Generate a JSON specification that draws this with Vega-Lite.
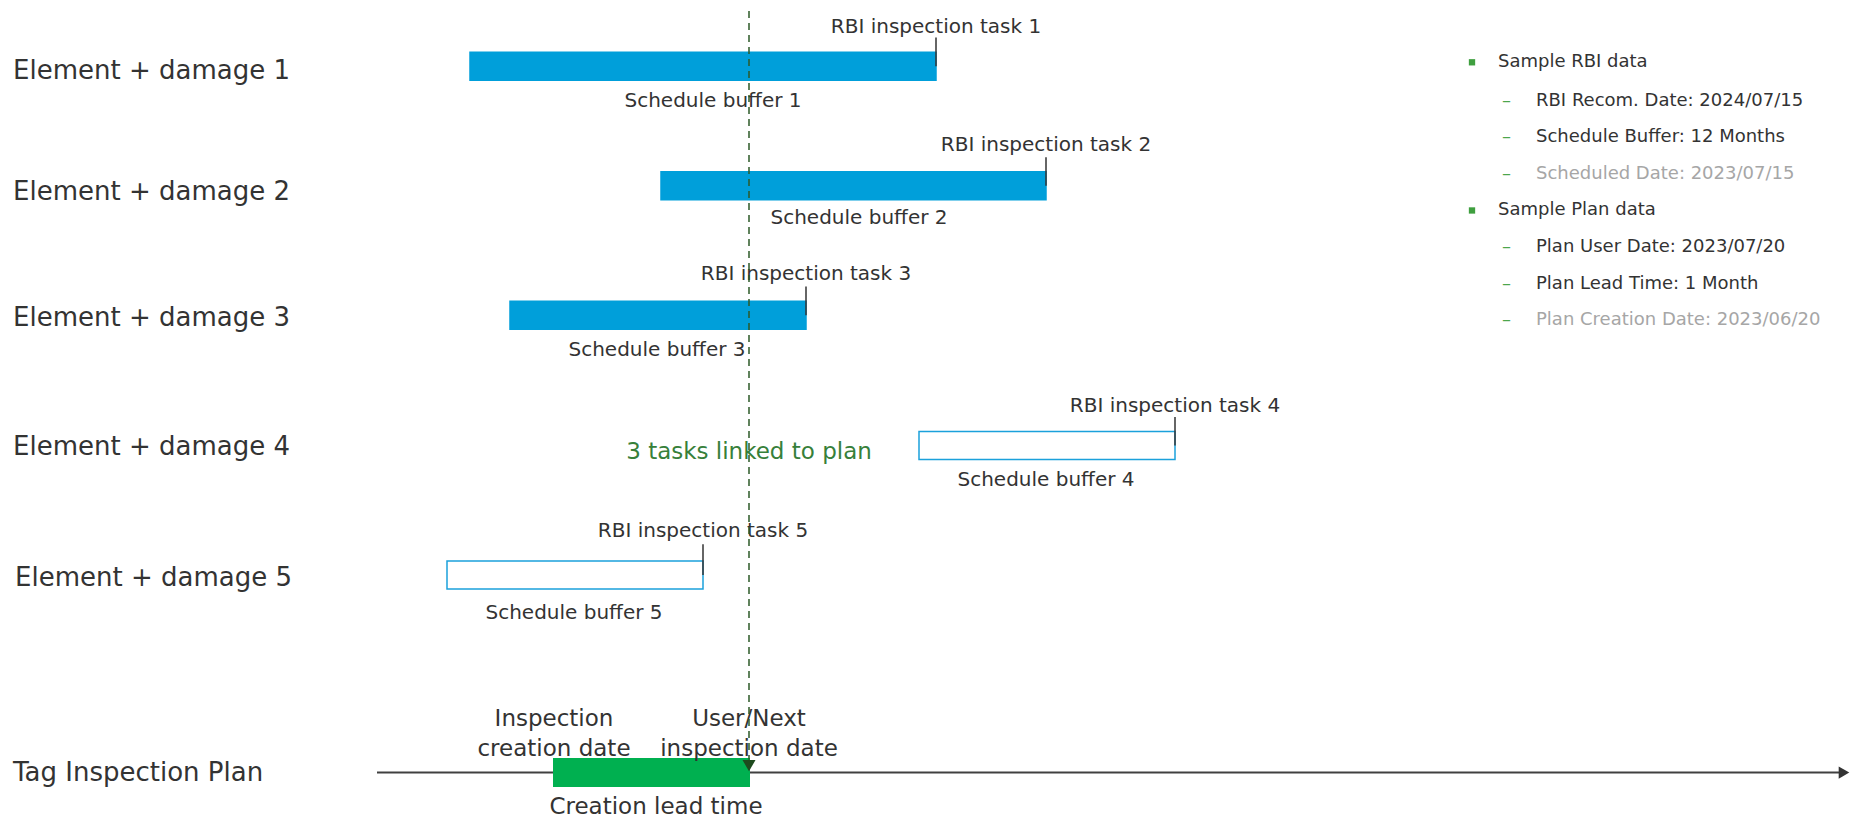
{
  "$schema": "https://vega.github.io/schema/vega-lite/v6.json",
  "width": 1855,
  "height": 824,
  "padding": 0,
  "autosize": {"type": "none"},
  "background": "#ffffff",
  "config": {"view": {"stroke": null}, "text": {"font": "DejaVu Sans"}},
  "datasets": {
    "tasks": [
      {"task": "RBI inspection task 1", "buffer": "Schedule buffer 1", "start": 470, "end": 936, "lane": 62, "tickTop": 33, "labelLane": 22, "bufferLane": 97, "bufferMid": 713, "linked": "yes"},
      {"task": "RBI inspection task 2", "buffer": "Schedule buffer 2", "start": 661, "end": 1046, "lane": 183, "tickTop": 154, "labelLane": 142, "bufferLane": 216, "bufferMid": 859, "linked": "yes"},
      {"task": "RBI inspection task 3", "buffer": "Schedule buffer 3", "start": 510, "end": 806, "lane": 314, "tickTop": 285, "labelLane": 272, "bufferLane": 349, "bufferMid": 657, "linked": "yes"},
      {"task": "RBI inspection task 4", "buffer": "Schedule buffer 4", "start": 919, "end": 1175, "lane": 446, "tickTop": 417, "labelLane": 406, "bufferLane": 481, "bufferMid": 1046, "linked": "no"},
      {"task": "RBI inspection task 5", "buffer": "Schedule buffer 5", "start": 447, "end": 703, "lane": 577, "tickTop": 546, "labelLane": 532, "bufferLane": 615, "bufferMid": 574, "linked": "no"}
    ],
    "rows": [
      {"label": "Element + damage 1", "t": 13, "lane": 67},
      {"label": "Element + damage 2", "t": 13, "lane": 189},
      {"label": "Element + damage 3", "t": 13, "lane": 317},
      {"label": "Element + damage 4", "t": 13, "lane": 447},
      {"label": "Element + damage 5", "t": 15, "lane": 580},
      {"label": "Tag Inspection Plan", "t": 13, "lane": 777}
    ],
    "timeline": [{"t": 377, "t2": 1840, "lane": 777, "arrowT": 1844}],
    "plan": [{"start": 553, "end": 750, "lane": 777, "userDate": 749, "dashTop": 6, "dashBottom": 764, "arrowLane": 770}],
    "planLabels": [
      {"text": "Inspection\ncreation date", "t": 554, "lane": 723},
      {"text": "User/Next\ninspection date", "t": 749, "lane": 723},
      {"text": "Creation lead time", "t": 656, "lane": 812}
    ],
    "note": [{"text": "3 tasks linked to plan", "t": 749, "lane": 452}],
    "legend": [
      {"text": "Sample RBI data", "level": 1, "muted": "no", "lane": 58},
      {"text": "RBI Recom. Date: 2024/07/15", "level": 2, "muted": "no", "lane": 97},
      {"text": "Schedule Buffer: 12 Months", "level": 2, "muted": "no", "lane": 134},
      {"text": "Scheduled Date: 2023/07/15", "level": 2, "muted": "yes", "lane": 171},
      {"text": "Sample Plan data", "level": 1, "muted": "no", "lane": 208},
      {"text": "Plan User Date: 2023/07/20", "level": 2, "muted": "no", "lane": 245},
      {"text": "Plan Lead Time: 1 Month", "level": 2, "muted": "no", "lane": 282},
      {"text": "Plan Creation Date: 2023/06/20", "level": 2, "muted": "yes", "lane": 319}
    ]
  },
  "layer": [
    {
      "data": {"name": "timeline"},
      "mark": {"type": "rule", "color": "#404040", "strokeWidth": 2},
      "encoding": {
        "x": {"field": "t", "type": "quantitative", "scale": {"domain": [0, 1855], "nice": false, "zero": false}, "axis": null},
        "x2": {"field": "t2"},
        "y": {"field": "lane", "type": "quantitative", "scale": {"domain": [0, 824], "reverse": true, "nice": false, "zero": false}, "axis": null}
      }
    },
    {
      "data": {"name": "timeline"},
      "mark": {"type": "point", "shape": "triangle-right", "filled": true, "color": "#333333", "size": 150, "opacity": 1},
      "encoding": {
        "x": {"field": "arrowT", "type": "quantitative"},
        "y": {"field": "lane", "type": "quantitative"}
      }
    },
    {
      "data": {"name": "tasks"},
      "mark": {"type": "bar", "orient": "horizontal", "height": 28, "strokeWidth": 1.5},
      "encoding": {
        "x": {"field": "start", "type": "quantitative"},
        "x2": {"field": "end"},
        "y": {"field": "lane", "type": "quantitative"},
        "fill": {"field": "linked", "type": "nominal", "scale": {"domain": ["yes", "no"], "range": ["#009FDA", "#FFFFFF"]}, "legend": null},
        "stroke": {"field": "linked", "type": "nominal", "scale": {"domain": ["yes", "no"], "range": ["#009FDA", "#1BA1DB"]}, "legend": null}
      }
    },
    {
      "data": {"name": "plan"},
      "mark": {"type": "bar", "orient": "horizontal", "height": 29, "color": "#00B050"},
      "encoding": {
        "x": {"field": "start", "type": "quantitative"},
        "x2": {"field": "end"},
        "y": {"field": "lane", "type": "quantitative"}
      }
    },
    {
      "data": {"name": "tasks"},
      "mark": {"type": "rule", "color": "#333333", "strokeWidth": 1.5},
      "encoding": {
        "x": {"field": "end", "type": "quantitative"},
        "y": {"field": "tickTop", "type": "quantitative"},
        "y2": {"field": "lane"}
      }
    },
    {
      "data": {"name": "tasks"},
      "mark": {"type": "text", "fontSize": 20, "align": "center", "baseline": "middle", "color": "#333333"},
      "encoding": {
        "x": {"field": "end", "type": "quantitative"},
        "y": {"field": "labelLane", "type": "quantitative"},
        "text": {"field": "task"}
      }
    },
    {
      "data": {"name": "tasks"},
      "mark": {"type": "text", "fontSize": 20, "align": "center", "baseline": "middle", "color": "#333333"},
      "encoding": {
        "x": {"field": "bufferMid", "type": "quantitative"},
        "y": {"field": "bufferLane", "type": "quantitative"},
        "text": {"field": "buffer"}
      }
    },
    {
      "data": {"name": "rows"},
      "mark": {"type": "text", "fontSize": 26, "align": "left", "baseline": "middle", "color": "#333333"},
      "encoding": {
        "x": {"field": "t", "type": "quantitative"},
        "y": {"field": "lane", "type": "quantitative"},
        "text": {"field": "label"}
      }
    },
    {
      "data": {"name": "planLabels"},
      "mark": {"type": "text", "fontSize": 23, "align": "center", "baseline": "middle", "color": "#333333", "lineBreak": "\n", "lineHeight": 30},
      "encoding": {
        "x": {"field": "t", "type": "quantitative"},
        "y": {"field": "lane", "type": "quantitative"},
        "text": {"field": "text"}
      }
    },
    {
      "data": {"name": "note"},
      "mark": {"type": "text", "fontSize": 23, "align": "center", "baseline": "middle", "color": "#37803A"},
      "encoding": {
        "x": {"field": "t", "type": "quantitative"},
        "y": {"field": "lane", "type": "quantitative"},
        "text": {"field": "text"}
      }
    },
    {
      "data": {"name": "plan"},
      "mark": {"type": "rule", "color": "#2D5A27", "strokeWidth": 1.5, "strokeDash": [7, 5]},
      "encoding": {
        "x": {"field": "userDate", "type": "quantitative"},
        "y": {"field": "dashTop", "type": "quantitative"},
        "y2": {"field": "dashBottom"}
      }
    },
    {
      "data": {"name": "plan"},
      "mark": {"type": "point", "shape": "triangle-down", "filled": true, "color": "#1E4A1E", "size": 170, "opacity": 1},
      "encoding": {
        "x": {"field": "userDate", "type": "quantitative"},
        "y": {"field": "arrowLane", "type": "quantitative"}
      }
    },
    {
      "data": {"name": "legend"},
      "transform": [{"filter": "datum.level == 1"}],
      "mark": {"type": "point", "shape": "square", "filled": true, "color": "#3F9F3F", "size": 40, "opacity": 1},
      "encoding": {
        "x": {"datum": 1472, "type": "quantitative"},
        "y": {"field": "lane", "type": "quantitative"}
      }
    },
    {
      "data": {"name": "legend"},
      "transform": [{"filter": "datum.level == 2"}],
      "mark": {"type": "text", "fontSize": 18, "align": "left", "baseline": "middle", "color": "#4CA64C", "text": "–"},
      "encoding": {
        "x": {"datum": 1502, "type": "quantitative"},
        "y": {"field": "lane", "type": "quantitative"}
      }
    },
    {
      "data": {"name": "legend"},
      "transform": [{"filter": "datum.level == 1"}],
      "mark": {"type": "text", "fontSize": 18, "align": "left", "baseline": "middle", "color": "#333333"},
      "encoding": {
        "x": {"datum": 1498, "type": "quantitative"},
        "y": {"field": "lane", "type": "quantitative"},
        "text": {"field": "text"}
      }
    },
    {
      "data": {"name": "legend"},
      "transform": [{"filter": "datum.level == 2 && datum.muted == 'no'"}],
      "mark": {"type": "text", "fontSize": 18, "align": "left", "baseline": "middle", "color": "#333333"},
      "encoding": {
        "x": {"datum": 1536, "type": "quantitative"},
        "y": {"field": "lane", "type": "quantitative"},
        "text": {"field": "text"}
      }
    },
    {
      "data": {"name": "legend"},
      "transform": [{"filter": "datum.level == 2 && datum.muted == 'yes'"}],
      "mark": {"type": "text", "fontSize": 18, "align": "left", "baseline": "middle", "color": "#A6A6A6"},
      "encoding": {
        "x": {"datum": 1536, "type": "quantitative"},
        "y": {"field": "lane", "type": "quantitative"},
        "text": {"field": "text"}
      }
    }
  ]
}
